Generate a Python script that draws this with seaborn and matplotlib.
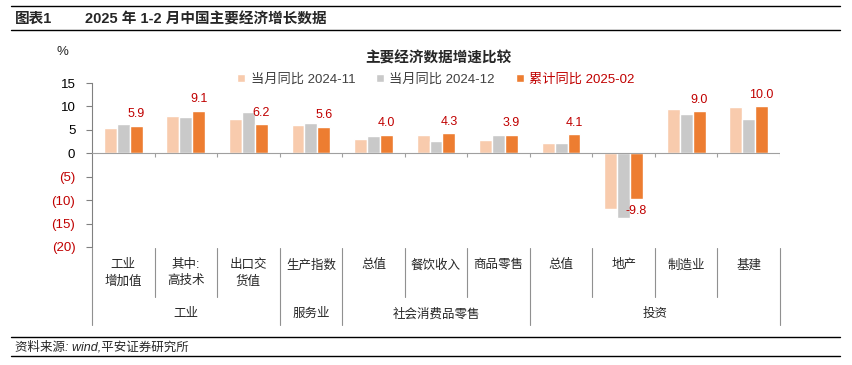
import seaborn as sns
import matplotlib.pyplot as plt
import matplotlib.transforms as mtransforms
from matplotlib.lines import Line2D
import pandas as pd

# categories (unique keys) and their display labels
cat_keys = ['工业增加值', '高技术', '出口交货值', '服务业生产指数', '社零总值', '餐饮收入',
            '商品零售', '投资总值', '地产投资', '制造业投资', '基建投资']
cat_labels = ['工业\n增加值', '其中:\n高技术', '出口交\n货值', '生产指数', '总值', '餐饮收入',
              '商品零售', '总值', '地产', '制造业', '基建']
groups = ['工业', '服务业', '社会消费品零售', '投资']
group_sizes = [3, 1, 3, 4]

series = ['当月同比 2024-11', '当月同比 2024-12', '累计同比 2025-02']
v_2024_11 = [5.4, 7.9, 7.4, 6.1, 3.0, 4.0, 2.8, 2.2, -11.8, 9.4, 9.9]
v_2024_12 = [6.2, 7.8, 8.8, 6.5, 3.7, 2.6, 3.9, 2.1, -13.8, 8.4, 7.4]
v_2025_02 = [5.9, 9.1, 6.2, 5.6, 4.0, 4.3, 3.9, 4.1, -9.8, 9.0, 10.0]

yticks = [15, 10, 5, 0, -5, -10, -15, -20]
ytick_labels = ['15', '10', '5', '0', '(5)', '(10)', '(15)', '(20)']

colors = ['#F8CBAD', '#C9C9C9', '#ED7D31']
red = '#C00000'

df = pd.DataFrame({
    'cat': cat_keys * 3,
    'series': [series[0]] * 11 + [series[1]] * 11 + [series[2]] * 11,
    'val': v_2024_11 + v_2024_12 + v_2025_02,
})

sns.set_style('white')
plt.rcParams['font.family'] = ['Liberation Sans', 'Noto Sans CJK SC', 'DejaVu Sans']

fig = plt.figure(figsize=(8.53, 3.65), dpi=100)
W, H = 853, 365
ax = fig.add_axes([92 / W, 1 - 247 / H, (780 - 92) / W, (247 - 83) / H])

sns.barplot(data=df, x='cat', y='val', hue='series', order=cat_keys, hue_order=series,
            palette=colors, width=0.62, saturation=1, ax=ax, legend=True)

ax.set_ylim(-20, 15)
ax.set_xlim(-0.5, len(cat_keys) - 0.5)
ax.set_xlabel('')
ax.set_ylabel('')
ax.set_xticks([])
ax.set_yticks(yticks)
ax.set_yticklabels(ytick_labels, fontsize=9.5)
for lab, v in zip(ax.get_yticklabels(), yticks):
    lab.set_color(red if v < 0 else '#000000')
ax.tick_params(axis='y', length=4, color='#808080', width=0.8, left=True, pad=8)
for s in ['top', 'right', 'bottom']:
    ax.spines[s].set_visible(False)
ax.spines['left'].set_color('#808080')
ax.spines['left'].set_linewidth(0.8)
ax.spines['left'].set_bounds(-20, 15)

# zero line with small ticks at category boundaries
ax.axhline(0, color='#A0A0A0', lw=0.8, zorder=3)
ax.vlines([i + 0.5 for i in range(len(cat_keys))], -0.8, 0, color='#A0A0A0', lw=0.8)

# data labels on cumulative series
ax.bar_label(ax.containers[2], fmt='%.1f', padding=4, color=red, fontsize=9)

# legend
leg = ax.legend(loc='center', bbox_to_anchor=(0.5, 1.02), ncol=3, frameon=False,
                fontsize=9.5, handlelength=0.6, handleheight=0.6, handletextpad=0.4,
                columnspacing=1.6)
for t in leg.get_texts()[:2]:
    t.set_color('#404040')
leg.get_texts()[2].set_color(red)

# category / group labels below the plot
trans = mtransforms.blended_transform_factory(ax.transData, ax.transAxes)
for i, lab in enumerate(cat_labels):
    ax.text(i, -0.075, lab, transform=trans, ha='center', va='top', fontsize=9,
            color='#262626', linespacing=1.45)
bounds = [0]
for n in group_sizes:
    bounds.append(bounds[-1] + n)
for i in range(len(cat_keys) + 1):
    long_line = i in bounds
    ax.add_line(Line2D([i - 0.5, i - 0.5], [-0.006, -0.476 if long_line else -0.305],
                       transform=trans, color='#909090', lw=0.8, clip_on=False))
for g, a, b in zip(groups, bounds[:-1], bounds[1:]):
    ax.text((a + b - 1) / 2, -0.41, g, transform=trans, ha='center', va='center',
            fontsize=9, color='#262626')

# titles, rules and source
fig.text(62 / W, 1 - 52 / H, '%', ha='center', va='center', fontsize=9.5)
fig.text(438 / W, 1 - 58 / H, '主要经济数据增速比较', ha='center', va='center',
         fontsize=10.5, fontweight='bold')
fig.text(15 / W, 1 - 19 / H, '图表1', ha='left', va='center', fontsize=10.5, fontweight='bold')
fig.text(85 / W, 1 - 19 / H, '2025 年 1-2 月中国主要经济增长数据', ha='left', va='center',
         fontsize=10.5, fontweight='bold')
for y in [6, 30, 337, 356]:
    fig.add_artist(Line2D([11 / W, 840 / W], [1 - y / H, 1 - y / H], color='black', lw=1.0))
fig.text(15 / W, 1 - 347 / H, '资料来源: wind,平安证券研究所', ha='left', va='center',
         fontsize=9, color='#262626', style='italic')

fig.savefig('out.png', dpi=100)
